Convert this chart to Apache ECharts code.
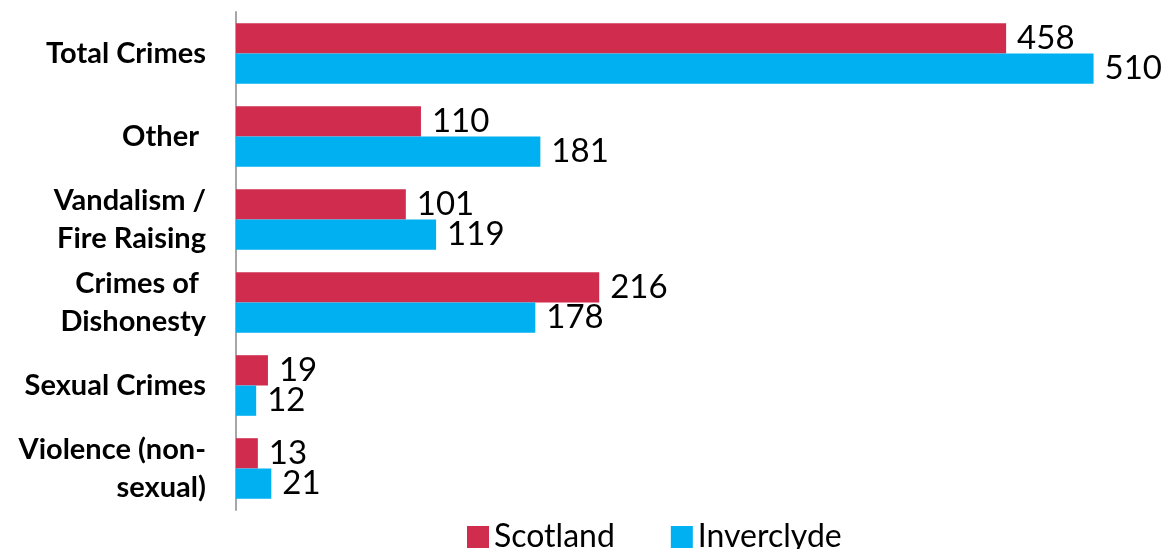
<!DOCTYPE html>
<html>
<head>
<meta charset="utf-8">
<script src="https://cdn.jsdelivr.net/npm/echarts@6/dist/echarts.min.js"></script>
<style>
  html, body { margin: 0; padding: 0; background: #fff; }
  #chart { width: 1170px; height: 549px; }
</style>
</head>
<body>
<div id="chart"></div>
<script>
// Crime categories, top to bottom
const categories = [
  'Total Crimes',
  'Other ',
  'Vandalism /\nFire Raising',
  'Crimes of \nDishonesty',
  'Sexual Crimes',
  'Violence (non-\nsexual)'
];
const seriesNames = ['Scotland', 'Inverclyde'];
const scotland = [458, 110, 101, 216, 19, 13];
const inverclyde = [510, 181, 119, 178, 12, 21];

const colors = ['#D02C4E', '#00B0F0'];
const font = 'Lato, "Open Sans", sans-serif';

const chart = echarts.init(document.getElementById('chart'));

function barSeries(name, data, color) {
  return {
    name: name,
    type: 'bar',
    data: data,
    barGap: '0%',
    barCategoryGap: '27%',
    itemStyle: { color: color },
    label: {
      show: true,
      position: 'right',
      distance: 11,
      color: '#000',
      fontFamily: font,
      fontSize: 33
    }
  };
}

chart.setOption({
  animation: false,
  grid: { left: 236, right: 26, top: 12, height: 498, containLabel: false },
  legend: {
    data: seriesNames,
    left: 462,
    top: 516,
    itemWidth: 22,
    itemHeight: 22,
    itemGap: 56,
    icon: 'rect',
    textStyle: { fontFamily: font, fontSize: 32, color: '#000' }
  },
  xAxis: {
    type: 'value',
    min: 0,
    max: 540,
    show: false
  },
  yAxis: {
    type: 'category',
    data: categories,
    inverse: true,
    axisLine: { show: true, lineStyle: { color: '#A6A6A6', width: 2 } },
    axisTick: { show: false },
    axisLabel: {
      margin: 30,
      color: '#000',
      fontFamily: font,
      fontWeight: 'bold',
      fontSize: 29,
      lineHeight: 38,
      align: 'right'
    }
  },
  series: [
    barSeries(seriesNames[0], scotland, colors[0]),
    barSeries(seriesNames[1], inverclyde, colors[1])
  ]
});
</script>
</body>
</html>
